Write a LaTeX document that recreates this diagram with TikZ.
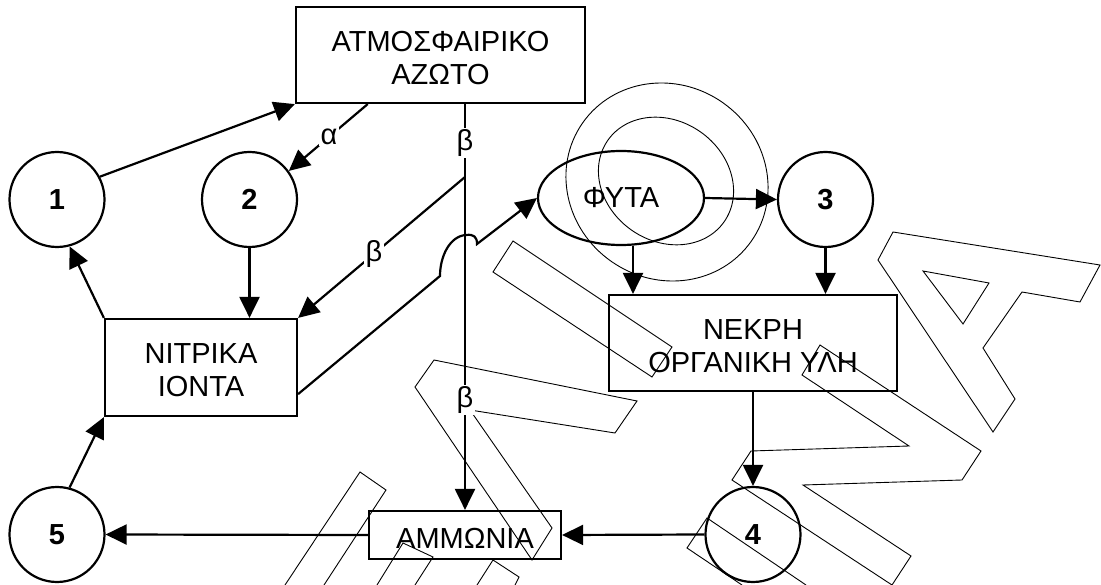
\documentclass[tikz,border=0pt]{standalone}
\usepackage{fontspec}
\setmainfont{Liberation Sans}
\usetikzlibrary{arrows.meta,shapes.geometric,calc}

\begin{document}
\begin{tikzpicture}[x=1pt,y=-1pt,
  line width=2.2pt,
  >={Triangle[length=21pt,width=20pt]},
  every node/.style={font=\fontsize{29}{33}\selectfont},
  box/.style={draw, rectangle, inner sep=0pt},
  boxtext/.style={align=center, yshift=-3pt},
  num/.style={draw, circle, minimum size=95pt, inner sep=0pt,
              font=\fontsize{29}{33}\selectfont\bfseries},
  lbl/.style={fill=white, inner sep=1.5pt},
  wm/.style={line width=0.9pt, line join=miter}
]
\useasboundingbox (0,0) rectangle (1101,585);

% outlined watermark letters
\begin{scope}[wm]
  \clip (0,0) rectangle (1101,585);
  % E (three bars)
  \draw (285,585) -- (360,472) -- (386,490) -- (324,585);
  \draw (377,585) -- (403,543) -- (433,557) -- (415,585);
  \draw (477,585) -- (493,560) -- (519,577) -- (515,585);
  % Lambda
  \draw (434,360) -- (637,401) -- (615,433) -- (470,410) -- (552,528)
        -- (532,560) -- (415,387) -- cycle;
  % I
  \draw (513,241) -- (672,347) -- (652,377) -- (493,272) -- cycle;
  % O
  \draw (667,182) ellipse [x radius=97, y radius=103, rotate=55];
  \draw (666,181) ellipse [x radius=60, y radius=71, rotate=55];
  % stem of the letter before N
  \draw (742,585) -- (687,548) -- (707,518) -- (806,585);
  % N
  \draw (820,345) -- (981,451) -- (962,480) -- (803,485) -- (911,556)
        -- (892,585) -- (732,480) -- (751,451) -- (909,446) -- (802,375) -- cycle;
  % A
  \draw (893,232) -- (1100,265) -- (1080,302) -- (1022,292) -- (983,348)
        -- (1015,399) -- (993,432) -- (878,260) -- cycle;
  \draw (923,271) -- (989,283) -- (963,324) -- cycle;
\end{scope}

% boxes
\node[box, minimum width=289pt, minimum height=96pt,
      label={[boxtext]center:ΑΤΜΟΣΦΑΙΡΙΚΟ\\ΑΖΩΤΟ}] (atmos) at (440.5,55) {};
\node[box, minimum width=192pt, minimum height=97pt,
      label={[boxtext]center:ΝΙΤΡΙΚΑ\\ΙΟΝΤΑ}] (nitrika) at (201,367.5) {};
\node[box, minimum width=288pt, minimum height=96pt,
      label={[boxtext]center:ΝΕΚΡΗ\\ΟΡΓΑΝΙΚΗ ΥΛΗ}] (nekrh) at (753,343) {};
\node[box, minimum width=192pt, minimum height=48pt,
      label={[boxtext]center:ΑΜΜΩΝΙΑ}] (ammonia) at (465,535) {};
\node[draw, ellipse, minimum width=166pt, minimum height=94pt, inner sep=0pt] (fyta) at (621,198) {ΦΥΤΑ};

% numbered circles
\node[num] (c1) at (57,199.5) {1};
\node[num] (c2) at (249.5,199.5) {2};
\node[num] (c3) at (825.5,199.5) {3};
\node[num] (c4) at (753,534.5) {4};
\node[num] (c5) at (57,534.5) {5};

% connectors
\draw[->] (c1.28) -- (atmos.south west);
\draw[->] ($(atmos.south west)!0.25!(atmos.south east)$) -- node[lbl,pos=0.49]{α} (c2.36);
\draw[->] (atmos.south -| ammonia.north) -- node[lbl,pos=0.096]{β} node[lbl,pos=0.728]{β} (ammonia.north);
\coordinate (bj) at (465,177);
\draw[->] (bj) -- node[lbl,pos=0.545]{β} (nitrika.north east);
\draw[->] (c2.south) -- (c2.south |- nitrika.north);
\draw[->] (nitrika.north west) -- (c1.-75);
\draw[->] (c5.75) -- (nitrika.south west);
\draw[->] (ammonia.west) -- (c5.east);
\draw[->] (c4.west) -- (ammonia.east);
\draw[->] (nekrh.south) -- (c4.north);
\draw[->] ([xshift=12pt]fyta.south) -- ([xshift=12pt]fyta.south |- nekrh.north);
\draw[->] (c3.south) -- (c3.south |- nekrh.north);
\draw[->] (fyta.east) -- (c3.west);
\draw[->] ($(nitrika.south east)+(0,-23)$) -- (440,276)
      .. controls (440,256) and (450,236) .. (466,235)
      .. controls (474,234) and (477,237) .. (477,244) -- (fyta.west);
\end{tikzpicture}
\end{document}
